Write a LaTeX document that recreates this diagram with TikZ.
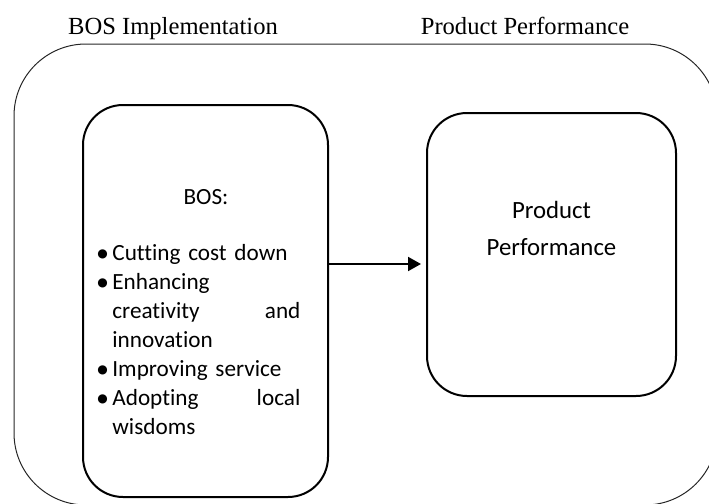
\documentclass[tikz,border=0pt]{standalone}
\usepackage{fontspec}
\setmainfont{Liberation Serif}
\newfontfamily\boxfont[Ligatures={NoCommon,NoContextual}]{Carlito}
\newfontfamily\dotfont{DejaVu Sans}
\usetikzlibrary{arrows.meta}

\tikzset{
  roundbox/.style={draw, line width=1pt, rounded corners=20pt, inner sep=0pt},
  boxtext/.style={font=\boxfont\fontsize{11.6}{14.5}\selectfont, inner sep=0pt},
  pptext/.style={font=\boxfont\fontsize{12.4}{18.5}\selectfont, inner sep=0pt},
  heading/.style={font=\fontsize{12.3}{14}\selectfont, inner sep=0pt},
}
\newcommand\bositem[1]{\makebox[7.5pt][l]{\raisebox{1.2pt}{\dotfont\fontsize{6}{7}\selectfont ●}}#1}
\newcommand\bosmore[1]{\hspace*{7.5pt}#1}

\begin{document}
\begin{tikzpicture}[x=0.5pt,y=-0.5pt]
\path[use as bounding box, clip] (0,0) rectangle (709,504);

% headings
\node [heading, anchor=base] (bosimpl) at (173,34) {BOS Implementation};
\node [heading, anchor=base] (prodperf) at (525,34) {Product Performance};

% outer frame
\draw [line width=0.5pt, black!85, rounded corners=36pt] (14,44) rectangle (717,505);

% BOS box
\node [roundbox, minimum width=122.5pt, minimum height=196pt] (bos) at (205.5,301) {};
\node [boxtext, anchor=base] (bostitle) at (206,204) {BOS:};
\node [boxtext, anchor=base west, text width=101.5pt, align=left] (boslist) at (97,260) {%
\bositem{Cutting cost down}\\
\bositem{Enhancing}\\
\bosmore{creativity\hfill and}\\
\bosmore{innovation}\\
\bositem{Improving service}\\
\bositem{Adopting\hfill local}\\
\bosmore{wisdoms}};

% product performance box
\node [roundbox, minimum width=124.5pt, minimum height=141.5pt] (pp) at (551.5,254.5) {};
\node [pptext, anchor=base, align=center] (pplabel) at (551.5,255) {Product\\Performance};

% arrow
\coordinate (arrowrow) at (0,264);
\draw [-{Triangle[length=6.5pt,width=7pt]}, line width=1pt, shorten >=2.5pt] (bos.east |- arrowrow) -- (pp.west |- arrowrow);

\end{tikzpicture}
\end{document}
